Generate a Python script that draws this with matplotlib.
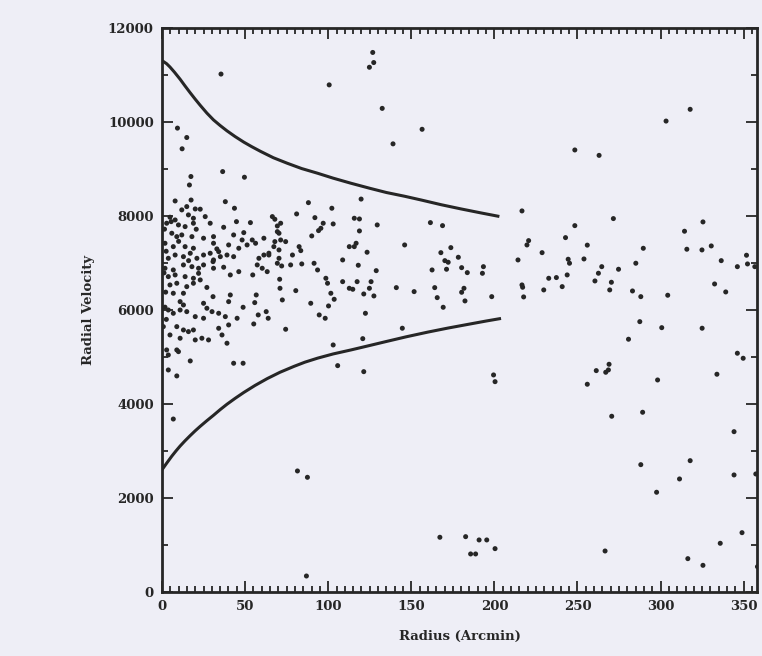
import numpy as np
import matplotlib
matplotlib.use("Agg")
import matplotlib.pyplot as plt
from matplotlib.ticker import MultipleLocator

# envelope curves
curve_r = [0, 0.8, 2.8, 4.8, 7.5, 10.9, 13.8, 16.9, 20, 23, 27, 31, 35, 39.1, 44,
           49.2, 54, 59.3, 67, 75.4, 84, 93.6, 103, 113.7, 125, 135, 146, 156,
           168, 180, 192, 203]
upper_v = [11300, 11288, 11240, 11170, 11060, 10910, 10770, 10625, 10485, 10355,
           10190, 10044, 9925, 9812, 9690, 9572, 9475, 9375, 9240, 9122, 9010,
           8910, 8805, 8697, 8590, 8500, 8420, 8340, 8240, 8150, 8065, 7990]
lower_r = [0, 0.8, 2.8, 5.9, 8.5, 10.9, 13.8, 16.9, 20, 23, 27, 31, 35, 39.1, 44,
           49.2, 56, 63.3, 71, 79.4, 86, 93.6, 103, 113.7, 125, 135, 147, 160,
           172, 185, 195, 204]
lower_v = [2600, 2640, 2740, 2890, 3005, 3105, 3215, 3325, 3430, 3525, 3645,
           3760, 3880, 3995, 4120, 4245, 4395, 4540, 4675, 4800, 4890, 4975,
           5065, 5150, 5245, 5330, 5430, 5530, 5615, 5700, 5765, 5820]

# galaxies: sparse outskirts
outer_r = [35.5, 100.6, 9.3, 14.9, 12.1, 36.5, 49.6, 17.4, 16.5,
           126.8, 127.4, 124.8, 132.5, 156.5, 139, 248.4, 263, 119.8,
           317.8, 303.3, 271.6, 325.5, 314.4, 255.9, 289.6, 315.8, 324.9, 330.5,
           253.9, 351.7, 285.1, 336.5, 264.6, 274.7, 346.2, 352.3, 356.7, 262.6,
           260.5, 270.4, 269.4, 283.1, 288.1, 304.3, 332.5, 339.2, 287.5, 300.7, 325,
           280.7, 346.2, 349.7, 269, 261.3, 267, 268.6, 255.9, 298.2, 333.9, 270.6,
           289.2, 344.2, 288.1, 317.8, 311.4, 344.2, 357.3, 297.6, 349, 335.9, 316.4,
           325.5, 266.6, 358.3,
           167.2, 182.7, 190.8, 195.4, 185.7, 188.7, 200.4,
           6.8, 81.5, 87.5, 86.9]
outer_v = [11020, 10790, 9870, 9670, 9430, 8945, 8825, 8840, 8660,
           11480, 11265, 11165, 10290, 9845, 9535, 9405, 9290, 8360,
           10270, 10020, 7945, 7874, 7676, 7380, 7313, 7293, 7278, 7363,
           7086, 7165, 6995, 7050, 6922, 6867, 6922, 6980, 6922, 6782,
           6618, 6590, 6427, 6405, 6284, 6314, 6554, 6384, 5752, 5624, 5612,
           5378, 5080, 4973, 4845, 4710, 4675, 4725, 4420, 4511, 4633, 3739,
           3824, 3411, 2709, 2794, 2405, 2490, 2511, 2122, 1262, 1036, 709,
           567, 872, 538,
           1164, 1177, 1107, 1107, 809, 809, 922,
           3680, 2575, 2440, 340]

# galaxies: 110 - 250 arcmin
mid_r = [216.6, 115.7, 118.8, 129.5, 161.5, 168.8, 118.8, 116.8, 115.7, 146,
         123.4, 118.1, 128.9, 167.8, 173.8, 170.2, 172.2, 178.3, 180.3, 183.7,
         171.2, 162.5, 193.4, 192.8, 117.4, 125.8, 124.8, 114.8, 121.4, 127.5,
         141, 151.7, 164.1, 165.6, 169.2, 181.7, 180.3, 182.3, 198.4, 122.4,
         144.6, 120.8, 121.4, 199.5, 200.4,
         220.6, 219.6, 228.7, 214.2, 248.4, 242.8, 244.4, 245.2, 243.8, 232.7,
         237.3, 216.6, 217, 217.6, 229.7, 240.8, 112.7, 112.7, 105.7]
mid_v = [8108, 7952, 7937, 7810, 7859, 7795, 7682, 7420, 7348, 7384,
         7229, 6952, 6837, 7220, 7327, 7050, 7016, 7122, 6901, 6795,
         6867, 6852, 6922, 6781, 6603, 6603, 6462, 6441, 6341, 6299,
         6476, 6391, 6476, 6263, 6058, 6462, 6377, 6193, 6284, 5930,
         5612, 5390, 4688, 4618, 4475,
         7476, 7384, 7220, 7065, 7795, 7540, 7080, 6995, 6746, 6675,
         6690, 6533, 6484, 6278, 6427, 6497, 7348, 6462, 4816]

# galaxies: dense core
core_r = [7.9, 17.5, 38.1, 14.9, 11.9, 20, 23, 43.6, 4.8, 7.9, 15.9, 18.9, 26,
          2.8, 9.9, 13.9, 18.9, 29, 44.8, 37.1, 20.6, 5.9, 8.9, 11.9, 18, 25,
          31, 43.1, 48.2, 1.8, 6.8, 13.9, 18.9, 40.1, 46.2, 34.1, 31,
          88.1, 102.2, 81, 66.4, 67.9, 92, 53.2, 97, 95.6, 94.2, 103, 69.4,
          71.4, 69.4, 70.4, 61.3, 90.1, 54.3, 56.3, 67.9, 71.4, 74.4, 67.3,
          70.4, 82.5, 83.5, 64.3, 51.2, 49.2,
          3.8, 7.9, 12.9, 17, 21, 25, 29, 35.1, 39.1, 43.1, 30.7, 1.8, 6.8,
          12.9, 18, 22, 25, 37.1, 41.1, 46.2, 3.8, 7.9, 13.9, 18.9, 23, 4.8,
          8.9, 14.9, 18.9, 6.8, 12.9, 30.7, 41.1, 40.1, 10.9, 12.9, 25, 27,
          48.8, 3.8, 6.8, 10.9, 14.9, 30.1, 34.1, 20, 25, 38.1, 45.2, 0.8,
          8.9, 12.9, 15.9, 18.9, 34.1, 40.1, 4.8, 10.9, 20, 24, 28, 36.1,
          39.1, 2.8, 8.9, 31, 31,
          3.8, 9.9, 17, 3.8, 8.9, 43.1, 48.8,
          58.3, 61.3, 64.3, 57.3, 60.3, 63.3, 70.4, 69.4, 72, 78.5, 77.4, 84.1,
          91.5, 93.6, 98.6, 99.6, 108.7, 108.7, 54.6, 70.8, 71, 80.5, 56.7,
          55.8, 72.4, 89.5, 101.6, 103.6, 100.2, 57.9, 62.7, 63.9, 94.6, 98.2,
          55.2, 74.4, 103,
          1.5, 2.5, 1.2, 2.2, 1.8, 2.6, 5.5, 10, 16, 22, 27, 33]
core_v = [8320, 8340, 8305, 8200, 8130, 8150, 8145, 8165, 7974, 7916, 8023, 7952, 7987,
          7846, 7810, 7774, 7846, 7846, 7880, 7760, 7718, 7633, 7561, 7597, 7561, 7527,
          7561, 7597, 7490, 7420, 7348, 7348, 7314, 7384, 7314, 7242, 7420,
          8284, 8165, 8044, 7987, 7931, 7965, 7859, 7846, 7739, 7689, 7831, 7788,
          7846, 7667, 7633, 7527, 7576, 7490, 7420, 7455, 7490, 7455, 7348,
          7278, 7348, 7263, 7208, 7384, 7646,
          7100, 7170, 7135, 7207, 7100, 7170, 7207, 7135, 7170, 7135, 7029, 6888, 6852,
          6959, 6922, 6888, 6959, 6910, 6746, 6816, 6710, 6746, 6710, 6675, 6640, 6533,
          6569, 6497, 6569, 6356, 6356, 6284, 6320, 6178, 6178, 6107, 6143, 6037,
          6058, 6000, 5930, 6000, 5965, 5965, 5930, 5859, 5824, 5859, 5824, 5646,
          5646, 5575, 5540, 5575, 5611, 5682, 5469, 5399, 5363, 5399, 5363, 5469,
          5293, 5150, 5150, 7065, 6888,
          5043, 5114, 4916, 4724, 4597, 4867, 4867,
          7100, 7170, 7170, 6959, 6888, 6816, 7100, 6994, 6937, 7170, 6959, 6980,
          6994, 6852, 6675, 6569, 6603, 7065, 6746, 6654, 6462, 6412, 6320,
          6157, 6214, 6143, 6356, 6228, 6086, 5895, 5965, 5824, 5895, 5824,
          5703, 5590, 5256,
          7720, 7250, 6790, 6380, 6060, 5800, 7880, 7460, 7050, 6780, 6480, 7300]

bg = '#eeeef6'
ink = '#262626'
font = dict(family='DejaVu Serif', weight='bold', size=9.5)

fig = plt.figure(figsize=(7.62, 6.56), dpi=100, facecolor=bg)
ax = fig.add_axes([0.2126, 0.0976, 0.7808, 0.8597], facecolor=bg)

ax.plot(curve_r, upper_v, color=ink, lw=2.2, solid_capstyle='butt')
ax.plot(lower_r, lower_v, color=ink, lw=2.2, solid_capstyle='butt')

for rr, vv in [(outer_r, outer_v), (mid_r, mid_v), (core_r, core_v)]:
    ax.scatter(rr, vv, s=13, color=ink, edgecolors='none', zorder=3)

ax.set_xlim(0, 358)
ax.set_ylim(0, 12000)
ax.xaxis.set_major_locator(MultipleLocator(50))
ax.xaxis.set_minor_locator(MultipleLocator(5))
ax.yaxis.set_major_locator(MultipleLocator(2000))
ax.yaxis.set_minor_locator(MultipleLocator(1000))
ax.tick_params(which='both', direction='in', top=True, right=True,
               color=ink, width=1.3)
ax.tick_params(which='major', length=8, pad=6)
ax.tick_params(which='minor', length=4)
for s in ax.spines.values():
    s.set_linewidth(2)
    s.set_color(ink)

for lab in ax.get_xticklabels() + ax.get_yticklabels():
    lab.set_fontfamily(font['family'])
    lab.set_fontweight('bold')
    lab.set_fontsize(font['size'])
    lab.set_color(ink)

ax.set_xlabel('Radius (Arcmin)', fontdict=font, color=ink, labelpad=12)
ax.set_ylabel('Radial Velocity', fontdict=font, color=ink, labelpad=9)

fig.savefig('out.png', dpi=100, facecolor=bg)
